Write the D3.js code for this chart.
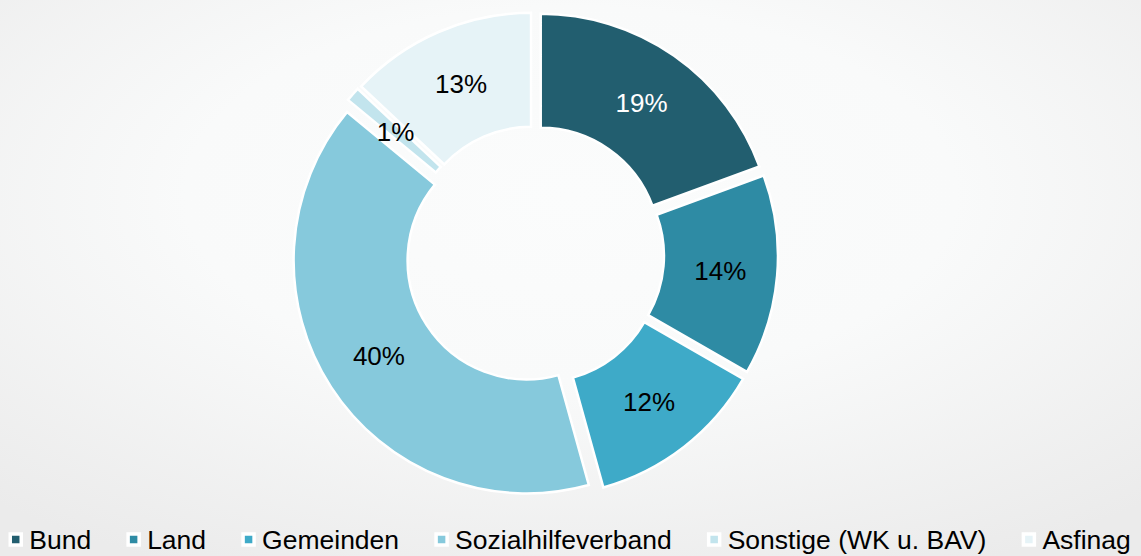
<!DOCTYPE html>
<meta charset="utf-8">
<script src="https://d3js.org/d3.v7.min.js"></script>
<style>
  body { margin: 0; overflow: hidden; }
  text { font-family: "Liberation Sans", Arial, sans-serif; }
</style>
<svg id="chart" width="1141" height="556"></svg>
<script>
// data
const categories = ["Bund", "Land", "Gemeinden", "Sozialhilfeverband", "Sonstige (WK u. BAV)", "Asfinag"];
const shares = [19.4, 13.9, 12.4, 40.3, 1.0, 13.0];
const labels = ["19%", "14%", "12%", "40%", "1%", "13%"];
const colors = ["#225e6f", "#2e8ba4", "#3eaac8", "#86c9dc", "#c2e4ed", "#e6f3f7"];
const labelColors = ["#ffffff", "#000000", "#000000", "#000000", "#000000", "#000000"];

const svg = d3.select("#chart"),
    width = +svg.attr("width"),
    height = +svg.attr("height");

// background gradient
const defs = svg.append("defs");
const grad = defs.append("radialGradient")
    .attr("id", "bg")
    .attr("cx", "50%").attr("cy", "35%").attr("r", "75%");
grad.append("stop").attr("offset", "0%").attr("stop-color", "#fbfcfc");
grad.append("stop").attr("offset", "45%").attr("stop-color", "#f9fafa");
grad.append("stop").attr("offset", "100%").attr("stop-color", "#ebebeb");
svg.append("rect").attr("width", width).attr("height", height).attr("fill", "url(#bg)");

const cx = 535, cy = 255;
const outerR = 233, innerR = 119, explode = 10;

const pie = d3.pie().sort(null).value(d => d);
const arcs = pie(shares);
const arc = d3.arc().innerRadius(innerR).outerRadius(outerR);

const g = svg.append("g").attr("transform", `translate(${cx},${cy})`);

function shift(d) {
  const a = (d.startAngle + d.endAngle) / 2;
  return [explode * Math.sin(a), -explode * Math.cos(a)];
}

g.append("g").selectAll("path")
    .data(arcs)
    .join("path")
    .attr("transform", d => `translate(${shift(d)})`)
    .attr("d", arc)
    .attr("fill", (d, i) => colors[i])
    .attr("stroke", "#ffffff")
    .attr("stroke-width", 2.5);

// labels on top of all slices
g.append("g").selectAll("text")
    .data(arcs)
    .join("text")
    .attr("transform", d => {
      const c = arc.centroid(d), s = shift(d);
      return `translate(${c[0] + s[0]},${c[1] + s[1]})`;
    })
    .attr("text-anchor", "middle")
    .attr("dy", "0.35em")
    .attr("font-size", 26)
    .attr("fill", (d, i) => labelColors[i])
    .text((d, i) => labels[i]);

// legend
const legend = svg.append("g");
const fontSize = 26.5, gap = 56, markerOff = 19, markerSize = 11;
const items = legend.selectAll("g")
    .data(categories)
    .join("g");
items.append("text")
    .attr("font-size", fontSize)
    .attr("fill", "#000")
    .attr("y", 549)
    .text(d => d);
let x = 0;
const starts = [];
items.each(function(d, i) {
  const w = d3.select(this).select("text").node().getComputedTextLength();
  starts.push(x);
  x += w + gap;
});
const total = x - gap + markerOff;
const offset = (width - total) / 2 + markerOff;
items.attr("transform", (d, i) => `translate(${offset + starts[i]},0)`);
items.insert("rect", "text")
    .attr("x", -markerOff)
    .attr("y", 534)
    .attr("width", markerSize)
    .attr("height", markerSize)
    .attr("fill", (d, i) => colors[i])
    .attr("stroke", "#ffffff")
    .attr("stroke-width", 3.5);
</script>
